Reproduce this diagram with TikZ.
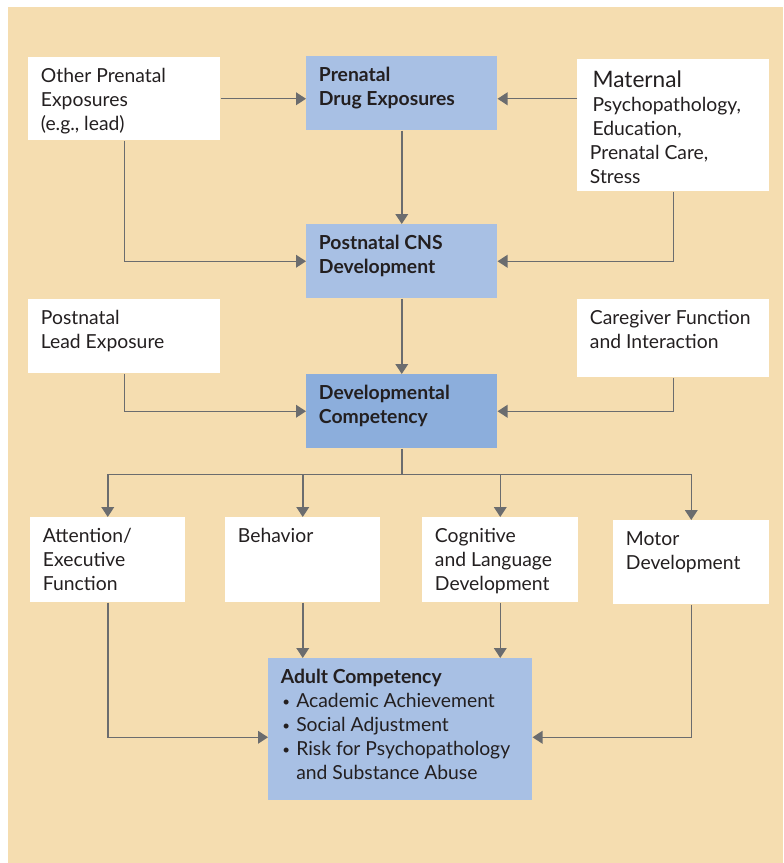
\documentclass[tikz,border=0pt]{standalone}
\usepackage{fontspec}
\setmainfont{Lato}
\usetikzlibrary{arrows.meta,calc}
\definecolor{tan}{HTML}{F5DDB0}
\definecolor{boxblue}{HTML}{A8C0E4}
\definecolor{dcblue}{HTML}{8CAEDC}
\definecolor{linegray}{HTML}{6B6C6E}
\definecolor{ink}{HTML}{231F20}
\newcommand{\cell}[3]{\parbox[t][#2][t]{#1}{\raggedright #3}}
\newcommand{\itm}[1]{\makebox[11.5pt][l]{\hspace{1pt}\raisebox{0.8pt}{\fontsize{10}{10}\selectfont\textbullet}}#1}
\tikzset{
  wbox/.style={fill=white, anchor=north west, inner xsep=9.5pt, inner ysep=8.5pt,
    font=\fontsize{14.5}{18}\selectfont, text=ink},
  bbox/.style={wbox, fill=boxblue, font=\fontsize{14.5}{18}\selectfont\bfseries},
  link/.style={draw=linegray, line width=1.1pt, -{Triangle[length=7.5pt,width=9.5pt]}},
}
\begin{document}
\begin{tikzpicture}[x=0.75pt, y=-0.75pt]
  \useasboundingbox (0,0) rectangle (783,863);
  \fill[tan] (8,7) rectangle (783,863);

  \node[wbox] (op) at (28,57) {\cell{125pt}{45.25pt}{Other Prenatal\\Exposures\\(e.g., lead)}};
  \node[bbox] (pde) at (306,56) {\cell{124.25pt}{38.5pt}{Prenatal\\Drug Exposures}};
  \node[wbox] (mat) at (577,59) {\cell{125pt}{82pt}{\hspace*{2pt}{\fontsize{17}{18}\selectfont Maternal}\\\hspace*{2pt}Psychopathology,\\\hspace*{2pt}Education,\\Prenatal Care,\\Stress}};
  \node[bbox] (pcns) at (306,224) {\cell{124.25pt}{38.5pt}{Postnatal CNS\\Development}};
  \node[wbox] (ple) at (28,299) {\cell{125pt}{38.5pt}{Postnatal\\Lead Exposure}};
  \node[wbox] (cg) at (577,299) {\cell{125pt}{41.5pt}{Caregiver Function\\and Interaction}};
  \node[bbox, fill=dcblue] (dc) at (306,374) {\cell{124.25pt}{38.5pt}{Developmental\\Competency}};

  \node[wbox] (att) at (30,517) {\cell{97.25pt}{46.75pt}{Attention/\\Executive\\Function}};
  \node[wbox] (beh) at (225,517) {\cell{97.25pt}{46.75pt}{Behavior}};
  \node[wbox] (cog) at (422,517) {\cell{98pt}{46.75pt}{Cognitive\\and Language\\Development}};
  \node[wbox] (mot) at (613,520) {\cell{98pt}{46pt}{Motor\\Development}};
  \node[wbox, fill=boxblue] (adult) at (268,658) {\cell{179pt}{89.5pt}{\textbf{Adult Competency}\\\itm{Academic Achievement}\\\itm{Social Adjustment}\\\itm{Risk for Psychopathology}\\\hspace*{11.5pt}and Substance Abuse}};

  \coordinate (split) at ($(dc.south)+(0,26)$);

  \draw[link] (op.east) -- (op.east -| pde.west);
  \draw[link] (mat.west |- op.east) -- (op.east -| pde.east);
  \draw[link] (pde) -- (pcns);
  \draw[link] (op.south) |- (pcns.west);
  \draw[link] (mat.south) |- (pcns.east);
  \draw[link] (pcns) -- (dc);
  \draw[link] (ple.south) |- (dc.west);
  \draw[link] (cg.south) |- (dc.east);
  \draw[draw=linegray, line width=1.1pt] (dc.south) -- (split);
  \draw[link] (split) -| (att.north);
  \draw[link] (split) -| (mot.north);
  \draw[link] (split -| beh.north) -- (beh.north);
  \draw[link] (split -| cog.north) -- (cog.north);
  \draw[link] (att.south) |- ($(adult.west)+(0,8)$);
  \draw[link] (mot.south) |- ($(adult.east)+(0,8)$);
  \draw[link] (beh.south) -- (beh.south |- adult.north);
  \draw[link] (cog.south) -- (cog.south |- adult.north);
\end{tikzpicture}
\end{document}
